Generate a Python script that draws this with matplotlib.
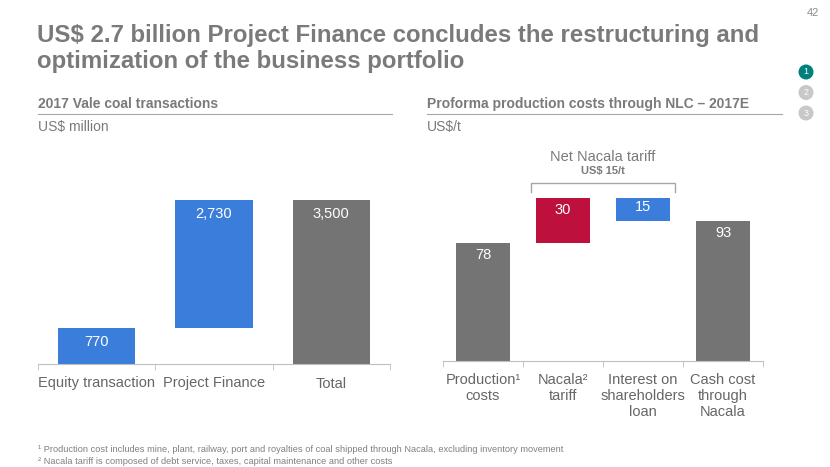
import matplotlib
matplotlib.use("Agg")
import matplotlib.pyplot as plt
from matplotlib.patches import Ellipse

plt.rcParams['font.family'] = ['Liberation Sans', 'DejaVu Sans']

# left chart data
left_cats = ['Equity transaction', 'Project Finance', 'Total']
left_vals = [770, 2730, 3500]
left_labels = ['770', '2,730', '3,500']

# right chart data (waterfall)
right_cats = ['Production\u00b9\ncosts', 'Nacala\u00b2\ntariff',
              'Interest on\nshareholders\nloan', 'Cash cost\nthrough\nNacala']
right_vals = [78, 30, -15, 93]
right_labels = ['78', '30', '15', '93']

footnotes = [
    '\u00b9 Production cost includes mine, plant, railway, port and royalties of coal shipped through Nacala, excluding inventory movement',
    '\u00b2 Nacala tariff is composed of debt service, taxes, capital maintenance and other costs',
]

BLUE = '#3b7ddb'
GREY = '#747474'
RED = '#be103c'
TXT = '#7a7a7a'
LAB = '#666666'
AX = '#bfbfbf'

W, H = 830, 467
fig = plt.figure(figsize=(W / 100, H / 100), dpi=100)


def fx(px):
    return px / W


def fy(py):
    return 1 - py / H


# title
fig.text(fx(37), fy(42), 'US$ 2.7 billion Project Finance concludes the restructuring and',
         fontsize=17.3, fontweight='bold', color=TXT, va='baseline')
fig.text(fx(37), fy(68), 'optimization of the business portfolio',
         fontsize=17.3, fontweight='bold', color=TXT, va='baseline')
fig.text(fx(819), fy(13), '42', fontsize=8, color='#8c8c8c', ha='right', va='center')

# section indicators
for i, (num, col) in enumerate([('1', '#00807a'), ('2', '#c8c8c8'), ('3', '#c8c8c8')]):
    cx, cy = 806, 72 + i * 20.5
    fig.patches.append(Ellipse((fx(cx), fy(cy)), 15 / W, 15 / H, transform=fig.transFigure,
                               facecolor=col, edgecolor='none'))
    fig.text(fx(cx), fy(cy), num, fontsize=6.5, color='white', ha='center', va='center')

# subtitles
for x0, x1, head, unit in [(38, 392, '2017 Vale coal transactions', 'US$ million'),
                           (427, 782, 'Proforma production costs through NLC \u2013 2017E', 'US$/t')]:
    fig.text(fx(x0), fy(108), head, fontsize=10, fontweight='bold', color=TXT, va='baseline')
    fig.add_artist(plt.Line2D([fx(x0), fx(x1)], [fy(114), fy(114)], color='#a6a6a6', lw=0.8))
    fig.text(fx(x0), fy(131), unit, fontsize=10, color=TXT, va='baseline')


def style_axis(ax, n):
    for s in ['top', 'right', 'left']:
        ax.spines[s].set_visible(False)
    ax.spines['bottom'].set_color(AX)
    ax.set_yticks([])
    ax.set_xlim(-0.5, n - 0.5)
    ax.set_xticks(range(n))
    ax.tick_params(axis='x', which='major', length=0, colors=LAB, labelsize=10.5, pad=9)
    ax.set_xticks([i - 0.5 for i in range(n + 1)], minor=True)
    ax.tick_params(axis='x', which='minor', length=4, color=AX, direction='out')
    ax.patch.set_alpha(0)


# left chart
axl = fig.add_axes([fx(38), fy(364), fx(352), 224 / H])
lscale = 164 / 3500
axl.set_ylim(0, 224 / lscale)
lbottoms = [0, left_vals[0], 0]
lheights = [left_vals[0], left_vals[2] - left_vals[0], left_vals[2]]
lcolors = [BLUE, BLUE, GREY]
xs = list(range(len(left_cats)))
axl.bar(xs, lheights, bottom=lbottoms, width=0.66, color=lcolors)
for x, b, h, t in zip(xs, lbottoms, lheights, left_labels):
    axl.text(x, b + h - 14 / lscale, t, ha='center', va='center', color='white', fontsize=10.5)
style_axis(axl, 3)
axl.set_xticklabels(left_cats)

# right chart
axr = fig.add_axes([fx(443), fy(361), fx(320), 221 / H])
rscale = 1.51
axr.set_ylim(0, 221 / rscale)
rbottoms, rheights = [], []
running = 0
for i, v in enumerate(right_vals):
    if i == len(right_vals) - 1:
        rbottoms.append(0)
        rheights.append(v)
    elif v >= 0:
        rbottoms.append(running)
        rheights.append(v)
        running += v
    else:
        running += v
        rbottoms.append(running)
        rheights.append(-v)
rcolors = [GREY, RED, BLUE, GREY]
xr = list(range(len(right_cats)))
axr.bar(xr, rheights, bottom=rbottoms, width=0.67, color=rcolors)
for x, b, h, t in zip(xr, rbottoms, rheights, right_labels):
    off = 12 if h > 20 else 9
    axr.text(x, b + h - off / rscale, t, ha='center', va='center', color='white', fontsize=10.5)
style_axis(axr, 4)
axr.set_xticklabels(right_cats, linespacing=1.15, va='top')

# bracket over the Nacala tariff
bx0, bx1 = 0.6, 2.4
by0, by1 = (361 - 192) / rscale, (361 - 183) / rscale
axr.plot([bx0, bx0, bx1, bx1], [by0, by1, by1, by0], color='#a6a6a6', lw=1, clip_on=False)
axr.text(1.5, (361 - 157) / rscale, 'Net Nacala tariff', ha='center', va='center',
         color=TXT, fontsize=10.5)
axr.text(1.5, (361 - 171) / rscale, 'US$ 15/t', ha='center', va='center',
         color=TXT, fontsize=8, fontweight='bold')

# footnotes
for i, t in enumerate(footnotes):
    fig.text(fx(38), fy(449 + i * 12), t, fontsize=6.7, color='#808080', va='center')

fig.savefig('out.png', dpi=100)
